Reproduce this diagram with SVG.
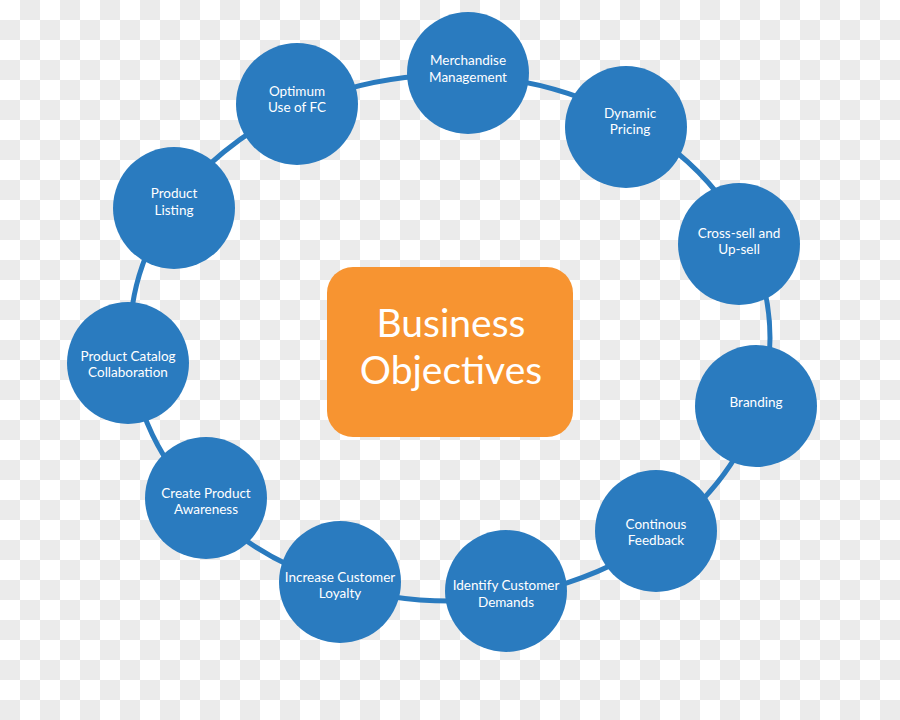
<svg xmlns="http://www.w3.org/2000/svg" width="900" height="720" viewBox="0 0 900 720">
<defs>
<pattern id="checker" width="40" height="40" patternUnits="userSpaceOnUse">
<rect x="0" y="0" width="40" height="40" fill="#ffffff"/>
<rect x="20" y="0" width="20" height="20" fill="#ebebeb"/>
<rect x="0" y="20" width="20" height="20" fill="#ebebeb"/>
</pattern>
<style>
.node circle{fill:#2a7bbf;}
.lbl{font-family:Lato,"Open Sans","Liberation Sans",sans-serif;font-size:13.5px;fill:#ffffff;text-anchor:middle;}
.ring{fill:none;stroke:#2a7bbf;stroke-width:5;}
.title{font-family:Lato,"Open Sans","Liberation Sans",sans-serif;font-size:39px;fill:#ffffff;text-anchor:middle;}
</style>
</defs>
<rect width="900" height="720" fill="url(#checker)"/>
<g id="connectors">
<ellipse class="ring" cx="450" cy="338" rx="320" ry="263"/>
</g>
<g id="center">
<rect x="327" y="267" width="246" height="170" rx="26" fill="#f79431"/>
<text class="title" x="451" y="337">Business</text>
<text class="title" x="451" y="384">Objectives</text>
</g>
<g id="merchandise" class="node"><circle cx="468" cy="73" r="61"/><text class="lbl" x="468" y="65">Merchandise</text><text class="lbl" x="468" y="82">Management</text></g>
<g id="dynamic-pricing" class="node"><circle cx="626" cy="127" r="61"/><text class="lbl" x="630" y="118">Dynamic</text><text class="lbl" x="630" y="134">Pricing</text></g>
<g id="cross-sell" class="node"><circle cx="739" cy="244" r="61"/><text class="lbl" x="739" y="238">Cross-sell and</text><text class="lbl" x="739" y="254">Up-sell</text></g>
<g id="branding" class="node"><circle cx="756" cy="406" r="61"/><text class="lbl" x="756" y="407">Branding</text></g>
<g id="feedback" class="node"><circle cx="656" cy="531" r="61"/><text class="lbl" x="656" y="529">Continous</text><text class="lbl" x="656" y="545">Feedback</text></g>
<g id="identify" class="node"><circle cx="506" cy="591" r="61"/><text class="lbl" x="506" y="590">Identify Customer</text><text class="lbl" x="506" y="607">Demands</text></g>
<g id="loyalty" class="node"><circle cx="340" cy="582" r="61"/><text class="lbl" x="340" y="582">Increase Customer</text><text class="lbl" x="340" y="598">Loyalty</text></g>
<g id="awareness" class="node"><circle cx="206" cy="498" r="61"/><text class="lbl" x="206" y="498">Create Product</text><text class="lbl" x="206" y="514">Awareness</text></g>
<g id="catalog" class="node"><circle cx="128" cy="363" r="61"/><text class="lbl" x="128" y="361">Product Catalog</text><text class="lbl" x="128" y="377">Collaboration</text></g>
<g id="listing" class="node"><circle cx="174" cy="208" r="61"/><text class="lbl" x="174" y="198">Product</text><text class="lbl" x="174" y="215">Listing</text></g>
<g id="optimum" class="node"><circle cx="297" cy="104" r="61"/><text class="lbl" x="297" y="96">Optimum</text><text class="lbl" x="297" y="112">Use of FC</text></g>
</svg>
